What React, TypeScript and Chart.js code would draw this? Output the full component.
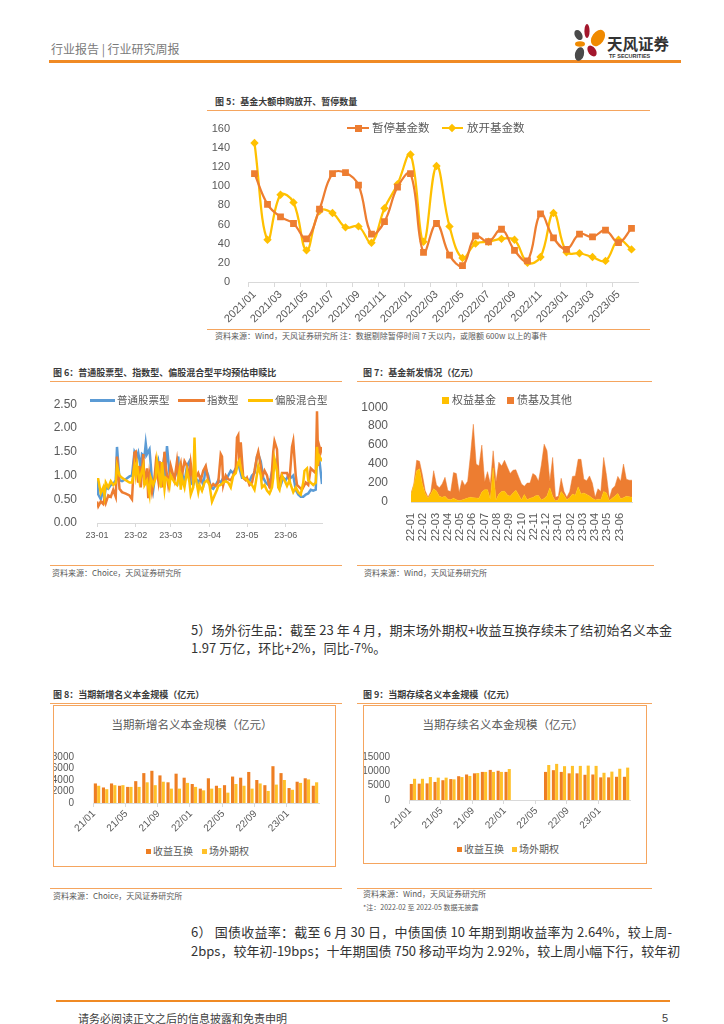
import React, { useEffect, useRef } from 'react';
import { Chart, registerables } from 'chart.js';

Chart.register(...registerables);

const NUM_FONT = "'Liberation Sans', 'Noto Sans CJK SC', sans-serif";
const CJK_FONT = "'Noto Sans CJK SC', 'Liberation Sans', sans-serif";
Chart.defaults.font.family = NUM_FONT;
Chart.defaults.color = '#595959';

const ORANGE = '#ED7D31';
const YELLOW = '#FFC000';
const BLUE = '#5B9BD5';
const AXIS = '#d9d9d9';

// ---------- Chart 5: 基金大额申购放开、暂停数量 ----------
const months5 = [
  '2021/01', '2021/02', '2021/03', '2021/04', '2021/05', '2021/06', '2021/07', '2021/08', '2021/09', '2021/10', '2021/11', '2021/12',
  '2022/01', '2022/02', '2022/03', '2022/04', '2022/05', '2022/06', '2022/07', '2022/08', '2022/09', '2022/10', '2022/11', '2022/12',
  '2023/01', '2023/02', '2023/03', '2023/04', '2023/05', '2023/06',
];
const paused5 = [113, 81, 68, 61, 45, 76, 113, 114, 101, 50, 63, 99, 113, 31, 61, 28, 17, 48, 42, 55, 33, 22, 71, 46, 34, 50, 47, 54, 41, 56];
const opened5 = [145, 44, 91, 83, 33, 74, 72, 57, 58, 41, 77, 102, 133, 42, 121, 58, 25, 40, 42, 45, 44, 20, 26, 72, 31, 30, 26, 22, 44, 34];

// ---------- Chart 6: 平均预估申赎比 (x = day of 2023, 0 = Jan 1) ----------
const months6 = ['23-01', '23-02', '23-03', '23-04', '23-05', '23-06'];
const monthStart6 = [0, 31, 59, 90, 120, 151];
const stockDays = [0, 1, 3, 5, 6, 7, 9, 11, 13, 15, 16, 18, 20, 23, 26, 28, 30, 32, 33, 35, 36, 38, 39, 40, 42, 44, 45, 47, 49, 51, 53, 54, 56, 58, 59, 62, 64, 65, 66, 68, 70, 72, 74, 75, 77, 79, 81, 83, 85, 87, 89, 91, 93, 95, 97, 99, 101, 103, 105, 107, 109, 111, 113, 114, 116, 118, 120, 122, 124, 126, 128, 129, 131, 133, 135, 137, 139, 141, 143, 145, 147, 149, 151, 153, 155, 157, 159, 161, 163, 165, 167, 169, 171, 173, 175, 176, 178, 180];
const stockRatio = [0.90, 0.60, 0.50, 0.68, 0.55, 0.75, 0.72, 0.80, 0.82, 0.90, 1.60, 0.90, 0.88, 0.92, 0.98, 1.00, 1.50, 1.40, 1.48, 1.15, 1.45, 1.40, 1.67, 1.45, 1.55, 0.90, 0.70, 1.10, 1.30, 0.90, 1.25, 0.85, 1.62, 1.05, 1.10, 0.95, 1.10, 1.40, 0.90, 1.05, 0.85, 1.20, 1.30, 0.85, 0.80, 0.95, 0.85, 0.95, 0.80, 1.15, 1.00, 0.75, 0.72, 0.80, 0.90, 0.85, 0.95, 0.90, 1.00, 1.10, 1.05, 1.15, 1.25, 1.15, 0.95, 0.95, 0.92, 0.88, 1.00, 1.05, 1.40, 1.45, 1.30, 0.95, 0.85, 0.80, 0.95, 1.20, 1.30, 0.90, 0.80, 0.95, 0.90, 1.00, 0.95, 1.00, 0.70, 0.60, 0.55, 0.55, 0.60, 0.62, 0.70, 0.68, 0.70, 1.55, 1.30, 0.82];
const indexDays = [0, 1, 3, 5, 6, 7, 9, 11, 13, 15, 16, 18, 20, 23, 26, 28, 30, 31, 33, 34, 35, 37, 38, 40, 41, 42, 44, 46, 47, 49, 50, 52, 54, 55, 57, 58, 59, 62, 64, 65, 67, 68, 70, 72, 74, 75, 77, 79, 81, 83, 85, 87, 89, 91, 93, 95, 97, 99, 100, 101, 103, 105, 107, 109, 111, 112, 113, 114, 115, 117, 119, 120, 122, 124, 126, 128, 129, 131, 132, 134, 136, 138, 139, 141, 142, 144, 145, 146, 148, 150, 152, 154, 156, 157, 159, 160, 162, 164, 166, 167, 169, 171, 173, 175, 176, 177, 178, 179, 180];
const indexRatio = [0.45, 0.35, 0.45, 0.40, 0.52, 0.42, 0.58, 0.55, 0.70, 0.55, 1.40, 0.72, 0.65, 0.62, 0.58, 0.50, 1.48, 1.50, 0.85, 1.20, 0.75, 1.45, 0.80, 1.15, 0.52, 1.00, 0.65, 0.95, 1.25, 0.90, 1.30, 0.75, 1.50, 1.20, 0.80, 0.95, 1.20, 0.90, 1.30, 1.05, 1.25, 1.00, 1.30, 1.20, 0.95, 1.25, 0.85, 0.95, 1.05, 0.90, 1.10, 1.20, 0.90, 0.75, 0.82, 0.78, 0.85, 1.45, 1.40, 0.80, 1.00, 0.92, 0.90, 1.00, 1.15, 1.80, 1.85, 1.20, 1.70, 0.95, 0.90, 0.95, 0.80, 0.85, 1.10, 1.40, 1.50, 1.20, 0.95, 1.10, 1.00, 0.75, 0.72, 1.50, 1.72, 1.55, 1.00, 0.80, 1.05, 1.05, 1.05, 0.90, 1.60, 1.72, 1.00, 0.80, 0.75, 0.70, 0.80, 0.85, 0.80, 1.15, 1.10, 1.05, 2.35, 1.20, 1.60, 1.50, 1.60];
const mixedDays = [0, 1, 3, 5, 6, 7, 9, 11, 13, 15, 16, 18, 20, 23, 26, 28, 30, 31, 32, 34, 35, 37, 38, 40, 42, 43, 45, 47, 48, 50, 51, 52, 54, 55, 57, 58, 59, 62, 64, 66, 67, 68, 70, 72, 74, 75, 77, 78, 79, 81, 82, 84, 86, 88, 90, 92, 94, 96, 97, 99, 101, 103, 105, 107, 109, 111, 113, 114, 115, 117, 119, 120, 122, 124, 126, 127, 129, 131, 132, 134, 136, 138, 140, 141, 142, 144, 145, 146, 148, 150, 152, 154, 155, 157, 159, 161, 163, 165, 166, 168, 169, 171, 173, 175, 176, 177, 178, 180];
const mixedRatio = [0.92, 0.92, 0.63, 0.75, 0.58, 0.85, 0.75, 0.88, 0.80, 0.85, 1.20, 1.00, 0.95, 0.90, 0.85, 0.85, 1.20, 1.00, 1.22, 0.88, 1.00, 1.20, 0.80, 0.90, 0.60, 0.95, 0.80, 0.95, 1.30, 0.95, 0.75, 1.28, 0.72, 0.95, 0.90, 0.78, 1.00, 0.85, 0.80, 1.10, 0.70, 0.95, 0.75, 1.10, 0.85, 0.60, 0.75, 1.80, 0.95, 0.65, 0.80, 0.68, 0.85, 0.90, 0.80, 0.45, 0.58, 0.70, 0.78, 0.80, 0.85, 0.88, 0.85, 0.75, 1.00, 1.05, 1.28, 1.32, 1.15, 0.95, 0.93, 0.90, 0.85, 0.80, 0.70, 0.85, 1.20, 1.00, 0.75, 0.80, 0.68, 0.62, 0.75, 0.95, 1.35, 1.10, 0.75, 0.70, 1.00, 0.90, 0.78, 0.90, 0.80, 0.65, 0.75, 0.65, 0.60, 0.85, 1.10, 1.15, 0.90, 0.85, 0.80, 0.85, 1.60, 1.30, 1.40, 1.30];

// ---------- Chart 7: 基金新发情况（亿元）, weekly ----------
const months7 = ['22-01', '22-02', '22-03', '22-04', '22-05', '22-06', '22-07', '22-08', '22-09', '22-10', '22-11', '22-12', '23-01', '23-02', '23-03', '23-04', '23-05', '23-06'];
const equity7 = [
  80, 180, 330, 350, 190, 90, 40, 85, 140, 115,
  60, 50, 60, 30, 25, 40, 25, 12, 22, 32,
  42, 50, 46, 42, 40, 105, 130, 130, 30, 360,
  22, 85, 110, 115, 75, 60, 95, 125, 75, 22,
  80, 25, 40, 48, 65, 68, 22, 36, 65, 150,
  60, 10, 25, 110, 70, 25, 45, 85, 70, 160,
  85, 95, 80, 62, 40, 20, 30, 25, 110, 95,
  12, 40, 62, 90, 35, 45, 60, 55, 50,
];
const bondOther7 = [
  10, 10, 110, 80, 100, 30, 10, 25, 190, 65,
  90, 140, 200, 90, 85, 270, 275, 88, 208, 143,
  178, 450, 774, 358, 340, 495, 80, 190, 160, 180,
  188, 335, 270, 325, 295, 240, 240, 215, 190, 168,
  85, 175, 160, 252, 215, 152, 368, 574, 475, 70,
  410, 40, 35, 140, 40, 25, 65, 185, 205, 290,
  365, 145, 145, 213, 160, 30, 110, 85, 360, 185,
  28, 100, 108, 180, 185, 355, 180, 175, 180,
];

// ---------- Chart 8 / 9: 名义本金规模（亿元） ----------
const months89 = [
  '21/01', '21/02', '21/03', '21/04', '21/05', '21/06', '21/07', '21/08', '21/09', '21/10', '21/11', '21/12',
  '22/01', '22/02', '22/03', '22/04', '22/05', '22/06', '22/07', '22/08', '22/09', '22/10', '22/11', '22/12',
  '23/01', '23/02', '23/03', '23/04',
];
const newSwap8 = [3400, 2700, 3400, 3000, 2800, 3800, 5200, 5600, 4800, 3600, 5100, 4400, 3300, 2500, 4300, 3000, 3100, 4600, 4400, 5400, 4000, 3100, 6400, 5200, 2600, 3700, 4300, 3000];
const newOption8 = [3000, 2400, 3100, 3100, 2800, 2800, 3600, 3100, 3700, 2500, 2500, 3500, 2800, 2200, 2500, 2600, 1800, 3300, 3000, 2500, 3400, 2100, 3200, 4000, 2300, 3500, 4100, 3600];
const stockSwap9 = [5600, 5700, 5800, 6300, 6900, 7300, 8300, 8900, 9300, 9800, 10500, 10200, 9800, null, null, null, null, 9800, 10400, 9800, 9300, 9300, 8800, 8900, 7900, 7900, 8100, 8100];
const stockOption9 = [7400, 7400, 8000, 7800, 7800, 7200, 8000, 8400, 9400, 9800, 9800, 9800, 10800, null, null, null, null, 12200, 12600, 11800, 11900, 11900, 12000, 11900, 9500, 9900, 10900, 11300];

const BAR_ORANGE = '#EE7E22';
const BAR_YELLOW = '#FFC12A';

function ChartCanvas({ left, top, width, height, make }: any) {
  const ref = useRef<HTMLCanvasElement | null>(null);
  useEffect(() => {
    const chart = new Chart(ref.current as HTMLCanvasElement, make());
    return () => chart.destroy();
  }, []);
  return (
    <canvas
      ref={ref}
      width={width}
      height={height}
      style={{ position: 'absolute', left, top, width, height }}
    />
  );
}

function Txt({ x, y, size, color = '#404040', weight = 400, family = CJK_FONT, center = false, children }: any) {
  return (
    <div
      style={{
        position: 'absolute',
        left: x,
        top: y,
        fontSize: size,
        lineHeight: 1.2,
        color,
        fontWeight: weight,
        fontFamily: family,
        whiteSpace: 'nowrap',
        transform: center ? 'translate(-50%, -50%)' : 'translateY(-50%)',
      }}
    >
      {children}
    </div>
  );
}

function Box({ x, y, w, h, bg, rot = 0, border }: any) {
  return (
    <div
      style={{
        position: 'absolute',
        left: x,
        top: y,
        width: w,
        height: h,
        background: bg,
        border,
        boxSizing: 'border-box',
        transform: rot ? `rotate(${rot}deg)` : undefined,
      }}
    />
  );
}

const noTooltip = { legend: { display: false }, tooltip: { enabled: false }, title: { display: false } };
const plain = (v: any) => String(v);

function make5() {
  return {
    type: 'line',
    data: {
      labels: months5,
      datasets: [
        { label: '暂停基金数', data: paused5, borderColor: ORANGE, backgroundColor: ORANGE, borderWidth: 2.25, pointStyle: 'rect', pointRadius: 4.8, pointBorderWidth: 0, tension: 0.4 },
        { label: '放开基金数', data: opened5, borderColor: YELLOW, backgroundColor: YELLOW, borderWidth: 2.25, pointStyle: 'rectRot', pointRadius: 4.2, pointBorderWidth: 0, tension: 0.4 },
      ],
    },
    options: {
      animation: false,
      responsive: false,
      layout: { padding: { top: 10, right: 12, left: 0, bottom: 0 } },
      plugins: noTooltip,
      scales: {
        x: {
          offset: true,
          grid: { display: true, drawOnChartArea: false, offset: true, tickLength: 5, color: (c: any) => (c.index % 2 === 0 ? AXIS : 'rgba(0,0,0,0)') },
          border: { color: AXIS },
          ticks: { autoSkip: false, maxRotation: 45, minRotation: 45, padding: 1, color: '#595959', font: { size: 11 }, callback: (_v: any, i: number) => (i % 2 === 0 ? months5[i] : '') },
          afterFit: (s: any) => { s.height = 46; },
        },
        y: {
          min: 0, max: 160,
          ticks: { stepSize: 20, padding: 10, color: '#595959', font: { size: 11 }, callback: plain },
          grid: { display: false },
          border: { display: false },
          afterFit: (s: any) => { s.width = 41; },
        },
      },
    },
  };
}

function make6() {
  const pts = (d: number[], v: number[]) => d.map((x, i) => ({ x, y: v[i] }));
  return {
    type: 'line',
    data: {
      datasets: [
        { label: '普通股票型', data: pts(stockDays, stockRatio), borderColor: BLUE, borderWidth: 2.5, pointRadius: 0, order: 3 },
        { label: '指数型', data: pts(indexDays, indexRatio), borderColor: ORANGE, borderWidth: 2.5, pointRadius: 0, order: 2 },
        { label: '偏股混合型', data: pts(mixedDays, mixedRatio), borderColor: YELLOW, borderWidth: 2.5, pointRadius: 0, order: 1 },
      ],
    },
    options: {
      animation: false,
      responsive: false,
      layout: { padding: { top: 10, right: 10, left: 0, bottom: 0 } },
      plugins: noTooltip,
      scales: {
        x: {
          type: 'linear', min: 0, max: 180,
          afterBuildTicks: (s: any) => { s.ticks = monthStart6.map((v) => ({ value: v })); },
          ticks: { autoSkip: false, maxRotation: 0, color: '#595959', font: { size: 9 }, padding: 3, callback: (_v: any, i: number) => months6[i] },
          grid: { drawOnChartArea: false, tickLength: 4, color: AXIS },
          border: { color: AXIS },
          afterFit: (s: any) => { s.height = 22; },
        },
        y: {
          min: 0, max: 2.5,
          ticks: { stepSize: 0.5, padding: 12, color: '#595959', font: { size: 12 }, callback: (v: any) => Number(v).toFixed(2) },
          grid: { display: false },
          border: { display: false },
          afterFit: (s: any) => { s.width = 45; },
        },
      },
    },
  };
}

function make7() {
  return {
    type: 'line',
    data: {
      datasets: [
        { label: '权益基金', data: equity7.map((y, x) => ({ x, y })), borderColor: YELLOW, backgroundColor: YELLOW, borderWidth: 0.5, pointRadius: 0, fill: 'origin', tension: 0 },
        { label: '债基及其他', data: bondOther7.map((y, x) => ({ x, y })), borderColor: ORANGE, backgroundColor: ORANGE, borderWidth: 0.5, pointRadius: 0, fill: '-1', tension: 0 },
      ],
    },
    options: {
      animation: false,
      responsive: false,
      layout: { padding: { top: 9, right: 10, left: 0, bottom: 0 } },
      plugins: noTooltip,
      scales: {
        x: {
          type: 'linear', min: 0, max: equity7.length - 1,
          afterBuildTicks: (s: any) => { s.ticks = months7.map((_m, i) => ({ value: (i * 52) / 12 })); },
          ticks: { autoSkip: false, minRotation: 90, maxRotation: 90, padding: 3, color: '#595959', font: { size: 11 }, callback: (_v: any, i: number) => months7[i] },
          grid: { display: false },
          border: { color: AXIS },
          afterFit: (s: any) => { s.height = 53; },
        },
        y: {
          stacked: true, min: 0, max: 1000,
          ticks: { stepSize: 200, padding: 15, color: '#595959', font: { size: 12 }, callback: plain },
          grid: { display: false },
          border: { display: false },
          afterFit: (s: any) => { s.width = 54; },
        },
      },
    },
  };
}

function makeBars(a: any[], b: any[], max: number, step: number, yWidth: number, xHeight: number) {
  return {
    type: 'bar',
    data: {
      labels: months89,
      datasets: [
        { label: '收益互换', data: a, backgroundColor: BAR_ORANGE, categoryPercentage: 0.82, barPercentage: 0.95 },
        { label: '场外期权', data: b, backgroundColor: BAR_YELLOW, categoryPercentage: 0.82, barPercentage: 0.95 },
      ],
    },
    options: {
      animation: false,
      responsive: false,
      layout: { padding: { top: 9, right: 16, left: 0, bottom: 0 } },
      plugins: noTooltip,
      scales: {
        x: {
          grid: { display: true, drawOnChartArea: false, offset: true, tickLength: 4, color: (c: any) => (c.index % 4 === 0 ? AXIS : 'rgba(0,0,0,0)') },
          border: { color: AXIS },
          ticks: { autoSkip: false, minRotation: 45, maxRotation: 45, padding: 1, labelOffset: -3, color: '#595959', font: { size: 10 }, callback: (_v: any, i: number) => (i % 4 === 0 ? months89[i] : '') },
          afterFit: (s: any) => { s.height = xHeight; },
        },
        y: {
          min: 0, max,
          ticks: { stepSize: step, autoSkip: false, padding: 11, color: '#595959', font: { size: 10 }, callback: plain },
          grid: { display: false },
          border: { display: false },
          afterFit: (s: any) => { s.width = yWidth; },
        },
      },
    },
  };
}

const SRC = '#595959';
const DIV = '#F5A55E';

export default function App() {
  return (
    <div style={{ position: 'absolute', left: 0, top: 0, width: 724, height: 1024, background: '#fff', overflow: 'hidden', fontFamily: CJK_FONT }}>
      {/* header */}
      <Txt x={51} y={49} size={12} color="#7a7a7a">行业报告 | 行业研究周报</Txt>
      <Box x={49} y={60} w={632} h={2.5} bg="#F08A24" />
      <svg style={{ position: 'absolute', left: 567, top: 21, width: 44, height: 44 }} viewBox="0 0 44 44">
        <ellipse cx="20" cy="10" rx="2.6" ry="7" fill="#A3162C" />
        <ellipse cx="11.5" cy="14" rx="3.6" ry="5.5" fill="#4a4a4a" transform="rotate(-30 11.5 14)" />
        <ellipse cx="31" cy="17" rx="6" ry="9" fill="#F08A00" transform="rotate(35 31 17)" />
        <ellipse cx="13" cy="23" rx="5" ry="2.8" fill="#F08A00" />
        <ellipse cx="25" cy="30" rx="3.8" ry="6" fill="#A3162C" transform="rotate(-35 25 30)" />
        <ellipse cx="12.5" cy="33" rx="4.5" ry="7" fill="#4a4a4a" transform="rotate(15 12.5 33)" />
      </svg>
      <Txt x={607} y={43} size={15.5} color="#333" weight={700}>天风证券</Txt>
      <Txt x={609} y={56} size={5.5} color="#333" family={NUM_FONT} weight={700}>TF SECURITIES</Txt>

      {/* chart 5 */}
      <Txt x={215} y={102} size={9} color="#3a3a3a" weight={700}>图 5：基金大额申购放开、暂停数量</Txt>
      <Box x={207} y={110} w={443} h={1} bg={DIV} />
      <ChartCanvas left={207} top={112} width={443} height={216} make={make5} />
      <Box x={347} y={127} w={22} h={2.25} bg={ORANGE} />
      <Box x={354.5} y={124.5} w={7} h={7} bg={ORANGE} />
      <Txt x={372} y={128} size={11.5} color="#595959">暂停基金数</Txt>
      <Box x={442} y={127} w={21} h={2.25} bg={YELLOW} />
      <Box x={449} y={125} w={6} h={6} bg={YELLOW} rot={45} />
      <Txt x={467} y={128} size={11.5} color="#595959">放开基金数</Txt>
      <Box x={207} y={329} w={443} h={1} bg={DIV} />
      <Txt x={215} y={336} size={8} color={SRC}>资料来源：Wind，天风证券研究所 注：数据剔除暂停时间 7 天以内，或限额 600w 以上的事件</Txt>

      {/* chart 6 */}
      <Txt x={53} y={373} size={9} color="#3a3a3a" weight={700}>图 6：普通股票型、指数型、偏股混合型平均预估申赎比</Txt>
      <Box x={50} y={381} w={292} h={1} bg={DIV} />
      <ChartCanvas left={52} top={385} width={280} height={160} make={make6} />
      <Box x={90} y={398.5} w={25} h={3} bg={BLUE} />
      <Txt x={117} y={400} size={10.5} color="#595959">普通股票型</Txt>
      <Box x={178} y={398.5} w={27} h={3} bg={ORANGE} />
      <Txt x={207} y={400} size={10.5} color="#595959">指数型</Txt>
      <Box x={248} y={398.5} w={25} h={3} bg={YELLOW} />
      <Txt x={275} y={400} size={10.5} color="#595959">偏股混合型</Txt>
      <Box x={50} y={565} w={292} h={1} bg={DIV} />
      <Txt x={52} y={573} size={8} color={SRC}>资料来源：Choice，天风证券研究所</Txt>

      {/* chart 7 */}
      <Txt x={363} y={373} size={9} color="#3a3a3a" weight={700}>图 7：基金新发情况（亿元）</Txt>
      <Box x={357} y={381} w={295} h={1} bg={DIV} />
      <ChartCanvas left={357} top={385} width={285} height={170} make={make7} />
      <Box x={442} y={396.5} w={7} h={7} bg={YELLOW} />
      <Txt x={452} y={400} size={11} color="#595959">权益基金</Txt>
      <Box x={507} y={396.5} w={7} h={7} bg={ORANGE} />
      <Txt x={517} y={400} size={11} color="#595959">债基及其他</Txt>
      <Box x={357} y={565} w={297} h={1} bg={DIV} />
      <Txt x={364} y={573} size={8} color={SRC}>资料来源：Wind，天风证券研究所</Txt>

      {/* paragraph 5 */}
      <div style={{ position: 'absolute', left: 191, top: 621, width: 481, fontSize: 13, lineHeight: '18px', color: '#333', fontFamily: CJK_FONT, textAlign: 'justify', textAlignLast: 'justify', whiteSpace: 'nowrap' }}>
        5）场外衍生品：截至 23 年 4 月，期末场外期权+收益互换存续未了结初始名义本金
      </div>
      <div style={{ position: 'absolute', left: 191, top: 639, fontSize: 13, lineHeight: '18px', color: '#333', fontFamily: CJK_FONT, whiteSpace: 'nowrap' }}>
        1.97 万亿，环比+2%，同比-7%。
      </div>

      {/* chart 8 */}
      <Txt x={53} y={695} size={9} color="#3a3a3a" weight={700}>图 8：当期新增名义本金规模（亿元）</Txt>
      <Box x={50} y={703} w={292} h={1} bg={DIV} />
      <Box x={53} y={705} w={283} h={162} border={`1.5px solid ${DIV}`} />
      <Txt x={192} y={725} size={11.5} color="#595959" center>当期新增名义本金规模（亿元）</Txt>
      <ChartCanvas left={54} top={740} width={281} height={100} make={() => makeBars(newSwap8, newOption8, 8000, 2000, 39, 37)} />
      <Box x={146} y={848.5} w={5} h={5} bg={BAR_ORANGE} />
      <Txt x={153} y={851} size={10} color="#595959">收益互换</Txt>
      <Box x={202} y={848.5} w={5} h={5} bg={BAR_YELLOW} />
      <Txt x={209} y={851} size={10} color="#595959">场外期权</Txt>
      <Box x={50} y={888} w={292} h={1} bg={DIV} />
      <Txt x={53} y={896} size={8} color={SRC}>资料来源：Choice，天风证券研究所</Txt>

      {/* chart 9 */}
      <Txt x={363} y={695} size={9} color="#3a3a3a" weight={700}>图 9：当期存续名义本金规模（亿元）</Txt>
      <Box x={357} y={703} w={295} h={1} bg={DIV} />
      <Box x={363} y={705} w={284} h={159} border={`1.5px solid ${DIV}`} />
      <Txt x={503} y={725} size={11.5} color="#595959" center>当期存续名义本金规模（亿元）</Txt>
      <ChartCanvas left={364} top={740} width={282} height={100} make={() => makeBars(stockSwap9, stockOption9, 15000, 5000, 45, 40)} />
      <Box x={457} y={846.5} w={5} h={5} bg={BAR_ORANGE} />
      <Txt x={464} y={849} size={10} color="#595959">收益互换</Txt>
      <Box x={512} y={846.5} w={5} h={5} bg={BAR_YELLOW} />
      <Txt x={519} y={849} size={10} color="#595959">场外期权</Txt>
      <Box x={357} y={888} w={295} h={1} bg={DIV} />
      <Txt x={363} y={894} size={8} color={SRC}>资料来源：Wind，天风证券研究所</Txt>
      <Txt x={363} y={907} size={7} color={SRC}>*注：2022-02 至 2022-05 数据无披露</Txt>

      {/* paragraph 6 */}
      <div style={{ position: 'absolute', left: 191, top: 922, width: 481, fontSize: 13, lineHeight: '19px', color: '#333', fontFamily: CJK_FONT, textAlign: 'justify', textAlignLast: 'justify', whiteSpace: 'nowrap' }}>
        6） 国债收益率：截至 6 月 30 日，中债国债 10 年期到期收益率为 2.64%，较上周-
      </div>
      <div style={{ position: 'absolute', left: 191, top: 941, width: 481, fontSize: 13, lineHeight: '19px', color: '#333', fontFamily: CJK_FONT, textAlign: 'justify', textAlignLast: 'justify', whiteSpace: 'nowrap' }}>
        2bps，较年初-19bps；十年期国债 750 移动平均为 2.92%，较上周小幅下行，较年初
      </div>

      {/* footer */}
      <Box x={56} y={1000} w={614} h={2} bg="#F08A24" />
      <Txt x={78} y={1019} size={11} color="#404040">请务必阅读正文之后的信息披露和免责申明</Txt>
      <Txt x={662} y={1019} size={11} color="#404040" family={NUM_FONT}>5</Txt>
    </div>
  );
}
